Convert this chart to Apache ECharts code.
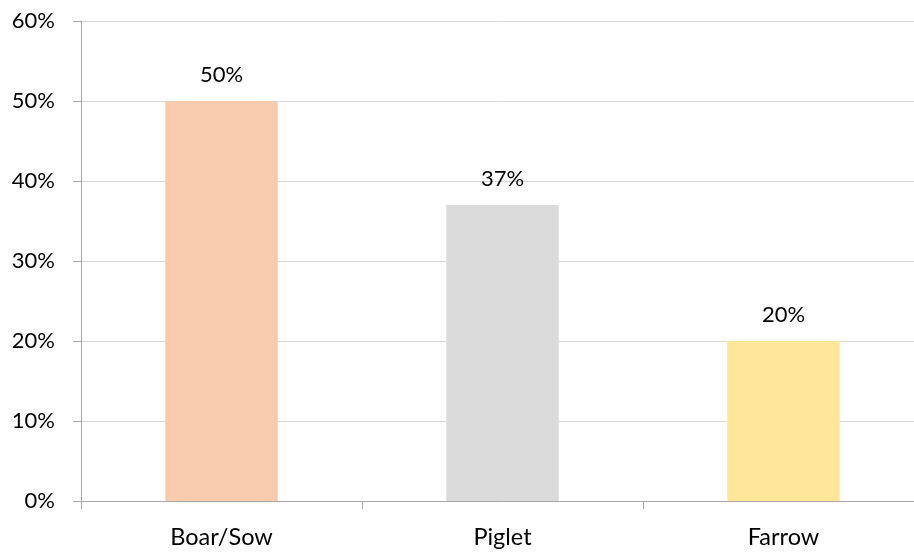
<!DOCTYPE html>
<html><head><meta charset="utf-8">
<script src="https://cdn.jsdelivr.net/npm/echarts@6/dist/echarts.min.js"></script>
<style>html,body{margin:0;padding:0;background:#fff;overflow:hidden;width:914px;height:554px}#c{width:924px;height:554px}</style>
</head><body><div id="c"></div>
<script>
var categories = ['Boar/Sow', 'Piglet', 'Farrow'];
var values = [50, 37, 20];
var barColors = ['#F8CBAD', '#DBDBDB', '#FFE699'];
var yTicks = [0, 10, 20, 30, 40, 50, 60];

var chart = echarts.init(document.getElementById('c'));
var font = 'Lato, "Open Sans", sans-serif';
chart.setOption({
  animation: false,
  grid: { left: 81, right: 0, top: 21, bottom: 53, containLabel: false },
  xAxis: {
    type: 'category', data: categories,
    axisLine: { lineStyle: { color: '#a6a6a6', width: 1 } },
    axisTick: { show: true, length: 8, lineStyle: { color: '#a6a6a6' } },
    axisLabel: { color: '#000', fontSize: 23.5, fontFamily: font, margin: 24 }
  },
  yAxis: {
    type: 'value', min: yTicks[0], max: yTicks[yTicks.length - 1], interval: 10,
    axisLine: { show: true, lineStyle: { color: '#a6a6a6', width: 1 } },
    axisTick: { show: true, length: 8, lineStyle: { color: '#a6a6a6' } },
    splitLine: { lineStyle: { color: '#d9d9d9', width: 1 } },
    axisLabel: { color: '#000', fontSize: 22, fontFamily: font, margin: 26, formatter: '{value}%' }
  },
  series: [{
    type: 'bar', barWidth: '40%',
    data: values.map(function (v, i) { return { value: v, itemStyle: { color: barColors[i] } }; }),
    label: { show: true, position: 'top', distance: 15, color: '#000', fontSize: 22, fontFamily: font, formatter: '{c}%' }
  }]
});
</script></body></html>
